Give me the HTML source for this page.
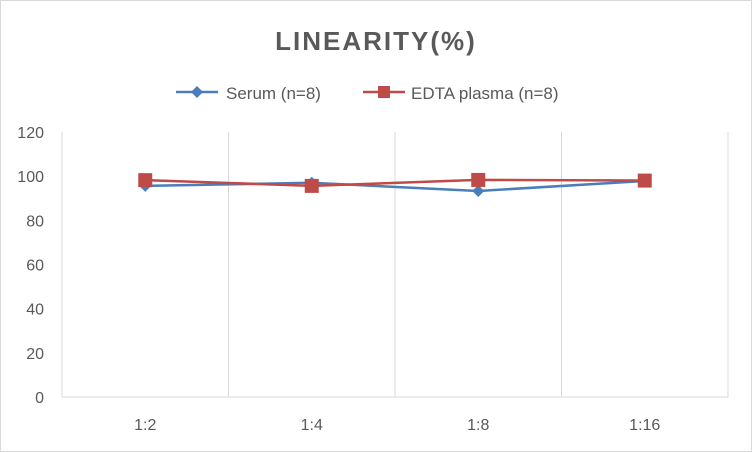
<!DOCTYPE html>
<html><head><meta charset="utf-8"><style>
body{margin:0;background:#fff;font-family:"Liberation Sans",sans-serif;}
svg{display:block}
</style></head><body>
<svg width="752" height="452">
<rect x="0.5" y="0.5" width="751" height="451" fill="#fff" stroke="#d9d9d9"/>
<text x="376" y="50" text-anchor="middle" font-size="26" font-weight="bold" fill="#595959" letter-spacing="2">LINEARITY(%)</text>
<g>
<g><line x1="176" y1="92" x2="218" y2="92" stroke="#4a7ebb" stroke-width="2.5"/><path d="M197 86 L203 92 L197 98 L191 92Z" fill="#4a7ebb"/><text x="226" y="99" font-size="17" fill="#595959">Serum (n=8)</text></g>
<g><line x1="363" y1="92" x2="405" y2="92" stroke="#be4b48" stroke-width="2.5"/><rect x="378" y="86" width="12" height="12" fill="#be4b48"/><text x="411" y="99" font-size="17" fill="#595959">EDTA plasma (n=8)</text></g>
</g>
<g id="grid"></g><g id="axes"></g><g id="series"></g>
</svg>
<script>
const categories=["1:2","1:4","1:8","1:16"];
const serum=[95.6,97,93.3,97.8];
const edta=[98.2,95.6,98.3,98];
const yTicks=[0,20,40,60,80,100,120];
const ns="http://www.w3.org/2000/svg";
const L=62,R=728,T=132,B=397,yMax=120;
const xs=i=>L+(R-L)/categories.length*(i+0.5);
const ys=v=>B-(B-T)*v/yMax;
function mk(tag,at,parent){const e=document.createElementNS(ns,tag);for(const k in at)e.setAttribute(k,at[k]);document.getElementById(parent).appendChild(e);return e;}
yTicks.forEach(t=>{
 const tx=mk('text',{x:44,y:ys(t)+6,'text-anchor':'end','font-size':'16',fill:'#595959'},'axes');tx.textContent=t;
 
 
});
const base=mk('line',{x1:L,x2:R,y1:ys(0),y2:ys(0),stroke:'#d9d9d9'},'grid');


for(let i=0;i<=categories.length;i++){
 const x=L+(R-L)/categories.length*i;
 const g=mk('line',{x1:x,x2:x,y1:T,y2:B,stroke:'#d9d9d9'},'grid');
 
 
}
categories.forEach((c,i)=>{
 const tx=mk('text',{x:xs(i),y:430,'text-anchor':'middle','font-size':'16',fill:'#595959'},'axes');tx.textContent=c;
 
 
});
function draw(vals,color,name,marker){
 const p=mk('polyline',{points:vals.map((v,i)=>xs(i)+','+ys(v)).join(' '),fill:'none',stroke:color,'stroke-width':'2.5'},'series');
 
 
 vals.forEach((v,i)=>{
  let m;
  if(marker==='d'){const x=xs(i),y=ys(v);m=mk('path',{d:`M${x} ${y-6}L${x+6} ${y}L${x} ${y+6}L${x-6} ${y}Z`,fill:color},'series');}
  else m=mk('rect',{x:xs(i)-7,y:ys(v)-7,width:14,height:14,fill:color},'series');
  
  
 });
}
draw(serum,'#4a7ebb','serum','d');
draw(edta,'#be4b48','edta','s');
</script>
</body></html>
